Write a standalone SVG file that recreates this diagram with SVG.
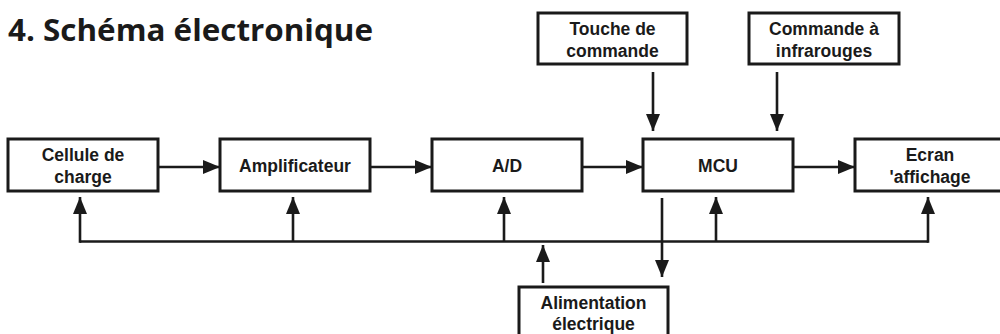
<svg xmlns="http://www.w3.org/2000/svg" width="1000" height="334" viewBox="0 0 1000 334">
<defs>
<marker id="ah" markerUnits="userSpaceOnUse" markerWidth="18" markerHeight="14" refX="17" refY="7" orient="auto">
<path d="M0,0 L17,7 L0,14 Z" fill="#1a1a1a"/>
</marker>
<style>
.box{fill:#fff;stroke:#1a1a1a;stroke-width:3}
.lbl{font-family:"Liberation Sans",Arial,sans-serif;font-weight:bold;font-size:17.5px;fill:#1a1a1a;text-anchor:middle}
.ln{fill:none;stroke:#1a1a1a;stroke-width:2.6}
.ar{fill:none;stroke:#1a1a1a;stroke-width:2.6;marker-end:url(#ah)}
</style>
</defs>
<rect width="1000" height="334" fill="#fff"/>
<text x="8" y="41" font-family="'Open Sans','DejaVu Sans',sans-serif" font-weight="bold" font-size="31" fill="#1a1a1a" textLength="365" lengthAdjust="spacingAndGlyphs">4. Schéma électronique</text>
<g id="connectors">
<line class="ar" x1="158" y1="167" x2="220" y2="167"/>
<line class="ar" x1="370" y1="167" x2="432" y2="167"/>
<line class="ar" x1="582" y1="167" x2="643" y2="167"/>
<line class="ar" x1="793" y1="167" x2="855" y2="167"/>
<line class="ar" x1="653" y1="72" x2="653" y2="131"/>
<line class="ar" x1="777" y1="72" x2="777" y2="131"/>
<polyline class="ln" points="80,241.5 928,241.5"/>
<line class="ar" x1="80" y1="242.8" x2="80" y2="197"/>
<line class="ar" x1="293" y1="241.5" x2="293" y2="197"/>
<line class="ar" x1="504" y1="241.5" x2="504" y2="197"/>
<line class="ar" x1="716" y1="241.5" x2="716" y2="197"/>
<line class="ar" x1="928" y1="242.8" x2="928" y2="197"/>
<line class="ar" x1="543" y1="283" x2="543" y2="245"/>
<line class="ar" x1="662" y1="198" x2="662" y2="277"/>
</g>
<g id="cellule">
<rect class="box" x="8" y="139" width="150" height="52"/>
<text class="lbl" x="83" y="161">Cellule de</text>
<text class="lbl" x="83" y="183">charge</text>
</g>
<g id="amplificateur">
<rect class="box" x="220" y="139" width="150" height="52"/>
<text class="lbl" x="295" y="172">Amplificateur</text>
</g>
<g id="ad">
<rect class="box" x="432" y="139" width="150" height="52"/>
<text class="lbl" x="507" y="172">A/D</text>
</g>
<g id="mcu">
<rect class="box" x="643" y="139" width="150" height="52"/>
<text class="lbl" x="718" y="172">MCU</text>
</g>
<g id="ecran">
<rect class="box" x="855" y="139" width="150" height="52"/>
<text class="lbl" x="930" y="161">Ecran</text>
<text class="lbl" x="930" y="183">'affichage</text>
</g>
<g id="touche">
<rect class="box" x="538" y="13" width="149" height="51"/>
<text class="lbl" x="612.5" y="35">Touche de</text>
<text class="lbl" x="612.5" y="57">commande</text>
</g>
<g id="infrarouges">
<rect class="box" x="749" y="13" width="150" height="51"/>
<text class="lbl" x="824" y="35">Commande à</text>
<text class="lbl" x="824" y="57">infrarouges</text>
</g>
<g id="alimentation">
<rect class="box" x="519" y="287" width="149" height="54"/>
<text class="lbl" x="593.5" y="309">Alimentation</text>
<text class="lbl" x="593.5" y="330">électrique</text>
</g>
</svg>
